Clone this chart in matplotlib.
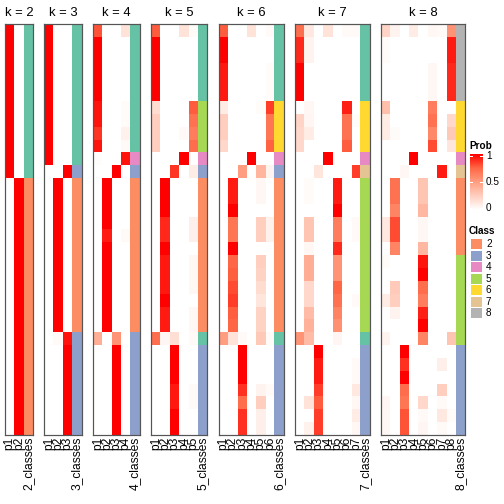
import matplotlib
matplotlib.use('Agg')
import matplotlib.pyplot as plt
import numpy as np
from matplotlib.colors import LinearSegmentedColormap, to_rgb
from matplotlib.patches import Rectangle

plt.rcParams['font.family'] = ['Liberation Sans', 'DejaVu Sans']

# membership probabilities, one row per sample, columns p1..pk
prob_k2 = [
    [1, 0], [1, 0], [1, 0], [1, 0], [1, 0], [1, 0], [1, 0], [1, 0],
    [1, 0], [1, 0], [1, 0], [1, 0], [0, 1], [0, 1], [0, 1], [0, 1],
    [0, 1], [0, 1], [0, 1], [0, 1], [0, 1], [0, 1], [0, 1], [0, 1],
    [0, 1], [0, 1], [0, 1], [0, 1], [0, 1], [0, 1], [0, 1], [0, 1],
]
prob_k3 = [
    [1, 0, 0], [1, 0, 0], [1, 0, 0], [1, 0, 0], [1, 0, 0], [1, 0, 0],
    [1, 0, 0], [1, 0, 0], [1, 0, 0], [1, 0, 0], [1, 0, 0], [0, 0, 1],
    [0, 1, 0], [0, 1, 0], [0, 1, 0], [0, 1, 0], [0, 1, 0], [0, 1, 0],
    [0, 1, 0], [0, 1, 0], [0, 1, 0], [0, 1, 0], [0, 1, 0], [0, 1, 0],
    [0, 0.03, 0.95], [0, 0, 1], [0, 0, 1], [0, 0, 1], [0, 0, 1], [0, 0, 1],
    [0, 0, 1], [0, 0, 1],
]
prob_k4 = [
    [0.8, 0, 0, 0.15], [1, 0, 0, 0], [1, 0, 0, 0], [1, 0, 0, 0],
    [1, 0, 0, 0], [1, 0, 0, 0], [0.95, 0, 0, 0.02], [0.95, 0, 0, 0.02],
    [0.87, 0, 0, 0.07], [0.95, 0, 0, 0.03], [0.01, 0, 0, 0.95], [0, 0, 1, 0],
    [0, 1, 0, 0], [0, 1, 0, 0], [0, 1, 0, 0], [0, 1, 0, 0],
    [0, 0.93, 0, 0.03], [0, 1, 0, 0], [0, 1, 0, 0], [0, 1, 0, 0],
    [0, 1, 0, 0], [0, 1, 0, 0], [0, 1, 0, 0], [0, 1, 0, 0],
    [0.42, 0, 0.55, 0], [0, 0, 1, 0], [0, 0, 1, 0], [0, 0, 1, 0],
    [0, 0, 1, 0], [0, 0, 1, 0], [0, 0, 1, 0], [0, 0, 1, 0],
]
prob_k5 = [
    [0.78, 0, 0, 0.15, 0.02], [1, 0, 0, 0, 0], [1, 0, 0, 0, 0], [1, 0, 0, 0, 0],
    [1, 0, 0, 0, 0], [1, 0, 0, 0, 0], [0.18, 0, 0, 0, 0.78], [0.25, 0, 0, 0, 0.7],
    [0.25, 0, 0, 0.03, 0.65], [0.25, 0, 0, 0, 0.72], [0, 0, 0, 1, 0], [0, 0, 0.87, 0, 0.1],
    [0, 1, 0, 0, 0], [0, 1, 0, 0, 0], [0, 1, 0, 0, 0], [0, 0.9, 0, 0, 0.08],
    [0, 0.9, 0, 0, 0.08], [0, 1, 0, 0, 0], [0, 0.94, 0, 0, 0.04], [0, 0.94, 0, 0, 0.04],
    [0, 0.94, 0, 0, 0.04], [0, 1, 0, 0, 0], [0, 0.93, 0, 0, 0.04], [0, 0.93, 0, 0, 0.04],
    [0.72, 0.05, 0.17, 0, 0.03], [0, 0, 1, 0, 0], [0, 0, 1, 0, 0], [0, 0, 1, 0, 0],
    [0, 0, 0.94, 0, 0.03], [0, 0, 0.94, 0, 0.03], [0, 0, 1, 0, 0], [0, 0, 1, 0, 0],
]
prob_k6 = [
    [0.78, 0, 0, 0.15, 0, 0.03], [1, 0, 0, 0, 0, 0], [1, 0, 0, 0, 0, 0],
    [0.94, 0, 0, 0, 0, 0.02], [0.94, 0, 0, 0, 0, 0.02], [0.94, 0, 0, 0, 0, 0.02],
    [0.1, 0, 0, 0, 0.02, 0.85], [0.25, 0, 0, 0, 0, 0.68], [0.25, 0, 0, 0, 0, 0.68],
    [0.2, 0, 0, 0, 0, 0.76], [0, 0, 0, 1, 0, 0], [0, 0, 0.5, 0, 0.38, 0.06],
    [0, 0.93, 0, 0, 0.04, 0], [0, 0.93, 0, 0, 0.04, 0], [0, 1, 0, 0, 0, 0],
    [0, 0.68, 0, 0, 0.25, 0.07], [0, 0.68, 0, 0, 0.25, 0.07], [0, 1, 0, 0, 0, 0],
    [0, 0.75, 0, 0, 0.25, 0], [0, 0.77, 0, 0, 0.23, 0], [0, 0.82, 0, 0, 0.18, 0],
    [0, 0.85, 0, 0, 0.13, 0], [0, 0.77, 0, 0, 0.23, 0], [0, 0.75, 0, 0, 0.23, 0],
    [0.5, 0.15, 0.03, 0, 0.28, 0.02], [0, 0, 1, 0, 0, 0], [0, 0, 1, 0, 0, 0],
    [0, 0, 1, 0, 0, 0], [0, 0, 0.88, 0, 0.06, 0.03], [0, 0, 0.72, 0, 0.25, 0],
    [0, 0, 0.88, 0, 0.08, 0], [0, 0, 0.88, 0, 0.08, 0],
]
prob_k7 = [
    [0.72, 0.12, 0, 0.15, 0, 0.03, 0.03], [0.9, 0.06, 0, 0, 0, 0, 0],
    [0.9, 0.06, 0, 0, 0, 0, 0], [1, 0, 0, 0, 0, 0, 0], [1, 0, 0, 0, 0, 0, 0],
    [1, 0, 0, 0, 0, 0, 0], [0, 0.04, 0, 0, 0, 0.92, 0], [0.22, 0.05, 0, 0, 0, 0.7, 0.02],
    [0.2, 0.1, 0, 0, 0, 0.7, 0], [0.2, 0, 0, 0, 0, 0.78, 0], [0, 0, 0, 1, 0, 0, 0],
    [0, 0, 0.13, 0, 0, 0, 0.85], [0, 0.02, 0, 0, 0.93, 0, 0], [0, 0.02, 0, 0, 0.93, 0, 0],
    [0, 0, 0, 0, 1, 0, 0], [0, 0.3, 0, 0, 0.65, 0, 0.03], [0, 0.3, 0, 0, 0.65, 0, 0.03],
    [0, 0.04, 0, 0, 0.9, 0, 0], [0, 0.42, 0, 0, 0.55, 0, 0], [0, 0.42, 0, 0, 0.55, 0, 0],
    [0, 0.2, 0, 0, 0.75, 0, 0], [0, 0.2, 0, 0, 0.7, 0, 0.03], [0, 0.35, 0, 0, 0.62, 0, 0],
    [0, 0.4, 0, 0, 0.56, 0, 0], [0.55, 0.35, 0, 0, 0.05, 0, 0], [0, 0, 1, 0, 0, 0, 0],
    [0, 0, 0.93, 0, 0, 0, 0.03], [0, 0, 0.93, 0, 0, 0, 0.03], [0, 0, 0.85, 0, 0, 0, 0.12],
    [0, 0.15, 0.78, 0, 0, 0, 0.04], [0, 0, 0.85, 0, 0, 0, 0.1], [0, 0.07, 0.85, 0, 0, 0, 0.04],
]
prob_k8 = [
    [0.22, 0.06, 0, 0.1, 0, 0.04, 0.03, 0.55], [0.02, 0, 0, 0, 0, 0, 0, 0.93],
    [0.02, 0, 0, 0, 0, 0, 0, 0.93], [0, 0, 0, 0, 0, 0.04, 0, 0.9],
    [0, 0, 0, 0, 0, 0.04, 0, 0.9], [0, 0, 0, 0, 0, 0.04, 0, 0.9],
    [0.33, 0, 0, 0, 0, 0.65, 0, 0], [0.1, 0, 0, 0, 0, 0.7, 0, 0.2],
    [0.1, 0.02, 0, 0, 0, 0.6, 0, 0.28], [0, 0, 0, 0, 0, 0.82, 0, 0.13],
    [0, 0, 0, 1, 0, 0, 0, 0], [0, 0, 0.04, 0, 0, 0, 0.93, 0],
    [0, 0.7, 0, 0, 0.3, 0, 0, 0], [0, 0.7, 0, 0, 0.3, 0, 0, 0],
    [0, 0.62, 0, 0, 0.37, 0, 0, 0], [0.12, 0.82, 0, 0, 0.04, 0, 0, 0],
    [0.12, 0.82, 0, 0, 0.04, 0, 0, 0], [0, 0.62, 0, 0, 0.37, 0, 0, 0],
    [0.02, 0, 0, 0, 0.95, 0, 0, 0], [0, 0, 0, 0, 1, 0, 0, 0],
    [0, 0.27, 0, 0, 0.72, 0, 0, 0], [0.1, 0.25, 0, 0, 0.65, 0, 0, 0],
    [0, 0.06, 0, 0, 0.92, 0, 0, 0], [0, 0, 0, 0, 1, 0, 0, 0],
    [0.06, 0, 0, 0, 0.62, 0, 0, 0.3], [0, 0, 1, 0, 0, 0, 0, 0],
    [0, 0, 0.88, 0, 0, 0, 0.08, 0], [0, 0, 1, 0, 0, 0, 0, 0],
    [0, 0, 0.72, 0, 0, 0, 0.25, 0], [0.05, 0, 0.68, 0, 0.2, 0, 0.03, 0],
    [0.04, 0, 0.8, 0, 0.03, 0, 0.12, 0.02], [0.04, 0, 0.8, 0, 0.05, 0, 0.03, 0],
]

# assigned class per sample
class_k2 = [1, 1, 1, 1, 1, 1, 1, 1, 1, 1, 1, 1, 2, 2, 2, 2,
            2, 2, 2, 2, 2, 2, 2, 2, 2, 2, 2, 2, 2, 2, 2, 2]
class_k3 = [1, 1, 1, 1, 1, 1, 1, 1, 1, 1, 1, 3, 2, 2, 2, 2,
            2, 2, 2, 2, 2, 2, 2, 2, 3, 3, 3, 3, 3, 3, 3, 3]
class_k4 = [1, 1, 1, 1, 1, 1, 1, 1, 1, 1, 4, 3, 2, 2, 2, 2,
            2, 2, 2, 2, 2, 2, 2, 2, 3, 3, 3, 3, 3, 3, 3, 3]
class_k5 = [1, 1, 1, 1, 1, 1, 5, 5, 5, 5, 4, 3, 2, 2, 2, 2,
            2, 2, 2, 2, 2, 2, 2, 2, 1, 3, 3, 3, 3, 3, 3, 3]
class_k6 = [1, 1, 1, 1, 1, 1, 6, 6, 6, 6, 4, 3, 2, 2, 2, 2,
            2, 2, 2, 2, 2, 2, 2, 2, 1, 3, 3, 3, 3, 3, 3, 3]
class_k7 = [1, 1, 1, 1, 1, 1, 6, 6, 6, 6, 4, 7, 5, 5, 5, 5,
            5, 5, 5, 5, 5, 5, 5, 5, 1, 3, 3, 3, 3, 3, 3, 3]
class_k8 = [8, 8, 8, 8, 8, 8, 6, 6, 6, 6, 4, 7, 2, 2, 2, 2,
            2, 2, 5, 5, 5, 5, 5, 5, 5, 3, 3, 3, 3, 3, 3, 3]

class_colors = {1: '#66C2A5', 2: '#FC8D62', 3: '#8DA0CB', 4: '#E78AC3',
                5: '#A6D854', 6: '#FFD92F', 7: '#E5C494', 8: '#B3B3B3'}
legend_classes = [2, 3, 4, 5, 6, 7, 8]
prob_ticks = [1, 0.5, 0]
prob_tick_labels = ['1', '0.5', '0']

ks = [2, 3, 4, 5, 6, 7, 8]
probs = {2: prob_k2, 3: prob_k3, 4: prob_k4, 5: prob_k5, 6: prob_k6, 7: prob_k7, 8: prob_k8}
classes = {2: class_k2, 3: class_k3, 4: class_k4, 5: class_k5, 6: class_k6, 7: class_k7, 8: class_k8}

# white -> red, interpolated like the LAB ramp of the original
prob_cmap = LinearSegmentedColormap.from_list(
    'prob', [(0, '#FFFFFF'), (0.25, '#FFCFBF'), (0.5, '#FF9E81'), (0.75, '#FF6846'), (1, '#FF0000')])

W = H = 504
fig = plt.figure(figsize=(W / 72, H / 72), dpi=72)

colw, gap, x0 = 9.32, 11.45, 5
top, bottom = 24, 435

x = x0
for k in ks:
    m = np.array(probs[k], dtype=float)
    n = m.shape[0]
    w = (k + 1) * colw
    ax = fig.add_axes([x / W, 1 - bottom / H, w / W, (bottom - top) / H])
    ax.imshow(m, cmap=prob_cmap, vmin=0, vmax=1, aspect='auto',
              interpolation='nearest', extent=[0, k, n, 0])
    cls_rgb = np.array([[to_rgb(class_colors[c])] for c in classes[k]])
    ax.imshow(cls_rgb, aspect='auto', interpolation='nearest', extent=[k, k + 1, n, 0])
    ax.set_xlim(0, k + 1)
    ax.set_ylim(n, 0)
    ax.set_xticks(np.arange(k + 1) + 0.5)
    ax.set_xticklabels([f'p{i + 1}' for i in range(k)] + [f'{k}_classes'],
                       rotation=90, fontsize=12)
    ax.tick_params(axis='x', length=0, pad=2)
    ax.set_yticks([])
    ax.set_title(f'k = {k}', fontsize=13, pad=8)
    for s in ax.spines.values():
        s.set_color('#555555')
        s.set_linewidth(1.2)
    x += w + gap

# legends, drawn in pixel coordinates
lax = fig.add_axes([0, 0, 1, 1])
lax.axis('off')
lax.text(469, 146, 'Prob', fontsize=10, fontweight='bold', ha='left', va='center')
grad = np.linspace(1, 0, 100).reshape(-1, 1)
cb_top, cb_bot = 154, 210
lax.imshow(grad, cmap=prob_cmap, vmin=0, vmax=1, aspect='auto',
           extent=[470, 483, cb_bot, cb_top], interpolation='bilinear')
for v, lab in zip(prob_ticks, prob_tick_labels):
    yy = cb_bot - v * (cb_bot - cb_top - 4) - 2
    lax.plot([480, 483], [yy, yy], color='white', lw=1)
    lax.plot([470, 472], [yy, yy], color='white', lw=1)
    lax.text(486, yy, lab, fontsize=10, ha='left', va='center')

lax.text(469, 231, 'Class', fontsize=10, fontweight='bold', ha='left', va='center')
for i, c in enumerate(legend_classes):
    yc = 244.2 + i * 11.5
    lax.add_patch(Rectangle((471, yc - 5.2), 11, 10.4, facecolor=class_colors[c], edgecolor='none'))
    lax.text(486, yc, str(c), fontsize=10, ha='left', va='center')
lax.set_xlim(0, W)
lax.set_ylim(H, 0)

fig.savefig('out.png', dpi=72)
